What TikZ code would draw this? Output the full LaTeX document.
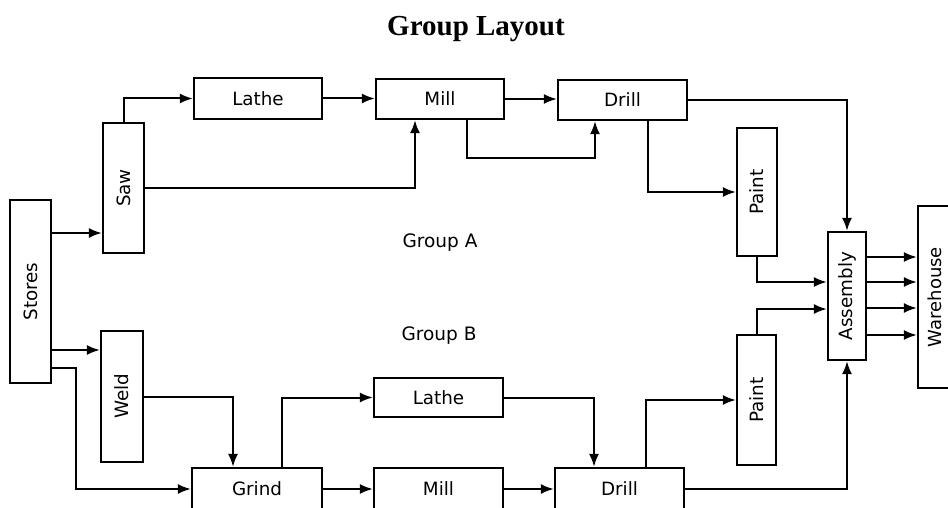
\documentclass[tikz,border=0pt]{standalone}
\usepackage{fontspec}
\usepackage{graphicx}
\setmainfont{Liberation Serif}
\newfontfamily\boxfont{DejaVu Sans}
\usetikzlibrary{arrows.meta}
\begin{document}
\begin{tikzpicture}[x=1pt,y=-1pt,
  box/.style={draw,line width=2.2pt,inner sep=0pt,font=\boxfont\fontsize{18.3}{18.3}\selectfont},
  hbox/.style={box,minimum width=#1,minimum height=40pt},
  vbox/.style={box,minimum height=#1,minimum width=40pt},
  conn/.style={line width=2pt},
  arr/.style={conn,-{Latex[length=13pt,width=10pt]}},
  lbl/.style={font=\boxfont\fontsize{18.5}{18.5}\selectfont}]
\useasboundingbox (0,0) rectangle (948,508);
\clip (0,0) rectangle (948,508);
\node[font=\bfseries\fontsize{29}{29}\selectfont] (title) at (476,29) {Group Layout};
% Group A
\node[vbox=183pt,minimum width=41pt] (stores) at (30.5,291.5) {\rotatebox{90}{Stores}};
\node[vbox=130pt,minimum width=41pt] (saw) at (123.5,188) {\rotatebox{90}{Saw}};
\node[hbox=128pt,minimum height=41pt] (latheA) at (258,98.5) {Lathe};
\node[hbox=128pt] (millA) at (440,99) {Mill};
\node[hbox=129pt] (drillA) at (622.5,100) {Drill};
\node[vbox=128pt] (paintA) at (757,192) {\rotatebox{90}{Paint}};
\node[vbox=128pt,minimum width=38pt] (assembly) at (847,296) {\rotatebox{90}{Assembly}};
\node[vbox=182pt,minimum width=42pt] (warehouse) at (939,297) {};
\node[inner sep=0pt,font=\boxfont\fontsize{18}{18}\selectfont,rotate=90] (whtext) at (935,297) {Warehouse};
% Group B
\node[vbox=131pt,minimum width=42pt] (weld) at (122,396.5) {\rotatebox{90}{Weld}};
\node[hbox=130pt,minimum height=42pt] (grind) at (257,489) {Grind};
\node[hbox=129pt,minimum height=42pt] (millB) at (438.5,489) {Mill};
\node[hbox=129pt,minimum height=42pt] (drillB) at (619.5,489) {Drill};
\node[hbox=129pt,minimum height=39pt] (latheB) at (438.5,397.5) {Lathe};
\node[vbox=130pt,minimum width=39pt] (paintB) at (756.5,400) {\rotatebox{90}{Paint}};
\node[lbl] (grpA) at (440,243) {Group A};
\node[lbl] (grpB) at (439,336) {Group B};
% connectors group A
\draw[arr] (stores.east |- 0,233) -- (saw.west |- 0,233);
\draw[arr] (saw.north) |- (latheA.west);
\draw[arr] (latheA.east) -- (millA.west |- latheA.east);
\draw[arr] (saw.east) -| ([xshift=-25pt]millA.south);
\draw[arr] (millA.east) -- (drillA.west |- millA.east);
\draw[arr] ([xshift=27pt]millA.south) -- ++(0,38) -| ([xshift=-27.5pt]drillA.south);
\draw[arr] (drillA.east) -| (assembly.north);
\draw[arr] ([xshift=25.5pt]drillA.south) |- (paintA.west);
\draw[arr] (paintA.south) |- (assembly.west |- 0,282);
\draw[arr] (paintB.north) |- (assembly.west |- 0,309);
\foreach \yy in {257,282,308,335}
  \draw[arr] (assembly.east |- 0,\yy) -- (warehouse.west |- 0,\yy);
% connectors group B
\draw[arr] (drillB.east) -| (assembly.south);
\draw[arr] ([xshift=26.5pt]drillB.north) |- (paintB.west);
\draw[arr] (latheB.east) -| ([xshift=-25.5pt]drillB.north);
\draw[arr] (millB.east) -- (drillB.west);
\draw[arr] (grind.east) -- (millB.west);
\draw[arr] ([xshift=25pt]grind.north) |- (latheB.west);
\draw[arr] (weld.east) -| ([xshift=-24pt]grind.north);
\draw[arr] (stores.east |- 0,350) -- (weld.west |- 0,350);
\draw[arr] (stores.east |- 0,368) -- ++(24,0) |- (grind.west);
\end{tikzpicture}
\end{document}
